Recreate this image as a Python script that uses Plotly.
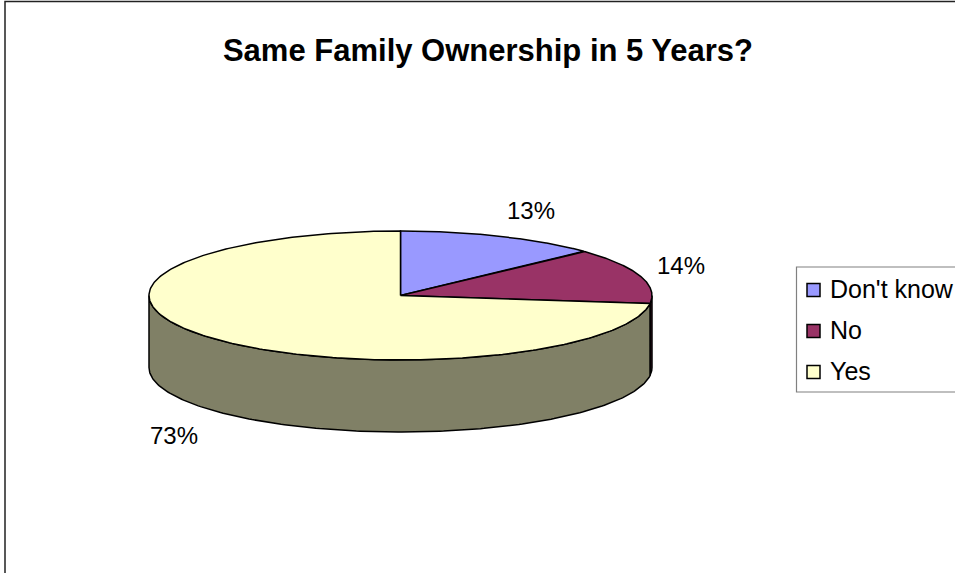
import numpy as np
import plotly.graph_objects as go

# Survey answers: will the business keep the same family ownership in 5 years?
categories = ["Don't know", "No", "Yes"]
shares = [13, 14, 73]

top_colors = ["#9999FF", "#993366", "#FFFFCC"]
side_colors = ["#4C4C80", "#4C1933", "#808066"]

W, H = 955, 573
# pie geometry in pixel units (tilted disc)
CX, CY = 400.5, 295.5
RX, RY = 251.5, 64.5
DEPTH = 72
# label anchor offsets from the rim point at each slice's mid angle
LABEL_OFFSETS = [(31, -26), (41, -10), (-38, 25)]

# legend box (pixels): left, top, bottom, first row centre, row pitch
LEG_X0, LEG_Y0, LEG_Y1 = 796.5, 267, 392
LEG_ROW0, LEG_PITCH = 290, 41

FONT = "Liberation Sans, Arial, sans-serif"


def px(x):
    return x / W


def py(y):
    return 1 - y / H


def rim(theta_deg, drop=0.0):
    t = np.radians(theta_deg)
    return CX + RX * np.sin(t), CY - RY * np.cos(t) + drop


total = float(sum(shares))
bounds = np.concatenate([[0.0], np.cumsum(shares) / total * 360.0])

fig = go.Figure()

# outer walls (only the front half, 90..270 deg, is visible)
for i in range(len(shares)):
    a0, a1 = max(bounds[i], 90.0), min(bounds[i + 1], 270.0)
    if a1 <= a0:
        continue
    th = np.linspace(a0, a1, 200)
    xt, yt = rim(th)
    xb, yb = rim(th[::-1], DEPTH)
    fig.add_trace(go.Scatter(
        x=np.concatenate([xt, xb, xt[:1]]),
        y=np.concatenate([yt, yb, yt[:1]]),
        mode="lines", fill="toself", fillcolor=side_colors[i],
        line=dict(color="black", width=1.5), hoverinfo="skip", showlegend=False))

# top faces
for i in range(len(shares)):
    th = np.linspace(bounds[i], bounds[i + 1], 300)
    xt, yt = rim(th)
    fig.add_trace(go.Scatter(
        x=np.concatenate([[CX], xt, [CX]]),
        y=np.concatenate([[CY], yt, [CY]]),
        mode="lines", fill="toself", fillcolor=top_colors[i],
        line=dict(color="black", width=1.5), name=categories[i],
        hoverinfo="skip", showlegend=False))

# percentage labels
for i in range(len(shares)):
    mid = (bounds[i] + bounds[i + 1]) / 2
    drop = DEPTH if 90 < mid < 270 else 0
    x, y = rim(mid, drop)
    dx, dy = LABEL_OFFSETS[i]
    fig.add_annotation(x=x + dx, y=y + dy, text=f"{shares[i]}%", showarrow=False,
                       font=dict(family=FONT, size=24, color="black"),
                       xanchor="center", yanchor="middle")

shapes = []
# chart frame (right and bottom edges run off the page)
shapes.append(dict(type="rect", xref="paper", yref="paper",
                   x0=px(5), y0=py(H + 20), x1=px(W + 20), y1=py(1.5),
                   line=dict(color="#222222", width=1.5), fillcolor="rgba(0,0,0,0)"))
# legend box, swatches and entries
shapes.append(dict(type="rect", xref="paper", yref="paper",
                   x0=px(LEG_X0), y0=py(LEG_Y1), x1=px(W + 30), y1=py(LEG_Y0),
                   line=dict(color="#808080", width=1.2), fillcolor="white", layer="below"))
for i, name in enumerate(categories):
    yc = LEG_ROW0 + i * LEG_PITCH
    shapes.append(dict(type="rect", xref="paper", yref="paper",
                       x0=px(807), x1=px(820), y0=py(yc + 6.5), y1=py(yc - 6.5),
                       line=dict(color="black", width=1.5), fillcolor=top_colors[i]))
    fig.add_annotation(xref="paper", yref="paper", x=px(828), y=py(yc - 1),
                       text=name, showarrow=False, xanchor="left", yanchor="middle",
                       font=dict(family=FONT, size=25, color="black"))

fig.update_layout(
    width=W, height=H,
    margin=dict(l=0, r=0, t=0, b=0),
    paper_bgcolor="white", plot_bgcolor="white",
    title=dict(text="<b>Same Family Ownership in 5 Years?</b>",
               x=488 / W, xanchor="center", y=1 - 50 / H, yanchor="middle",
               font=dict(family=FONT, size=31, color="black")),
    xaxis=dict(range=[0, W], visible=False, fixedrange=True),
    yaxis=dict(range=[H, 0], visible=False, fixedrange=True),
    shapes=shapes,
    showlegend=False,
)

fig.write_html("out.html")
